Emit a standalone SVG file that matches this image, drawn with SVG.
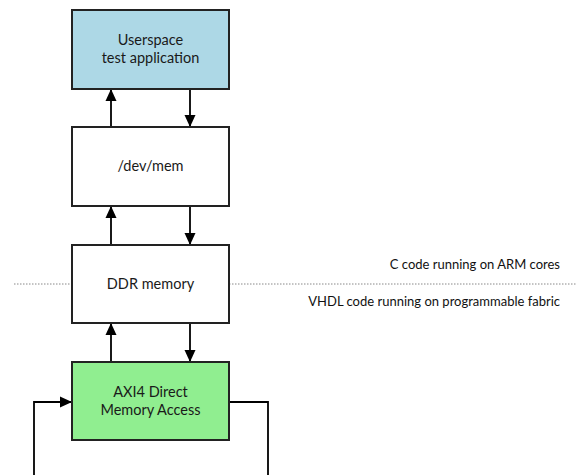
<svg xmlns="http://www.w3.org/2000/svg" width="577" height="475" viewBox="0 0 577 475">
<style>
.box{stroke:#222;stroke-width:2}
.t{font-family:Lato,"Open Sans",sans-serif;font-size:14.5px;fill:#1a1a1a;text-anchor:middle}
.note{font-family:Lato,"Open Sans",sans-serif;font-size:13px;fill:#111;text-anchor:end}
.c{stroke:#000;stroke-width:1.8;fill:none}
</style>
<defs>
<marker id="ah" viewBox="0 0 12 12" refX="12" refY="6" markerWidth="12" markerHeight="12" markerUnits="userSpaceOnUse" orient="auto">
<path d="M0,0.5 L12,6 L0,11.5 z" fill="#000"/>
</marker>
</defs>
<rect width="577" height="475" fill="#fff"/>
<g id="divider">
<line x1="14" y1="284" x2="72" y2="284" stroke="#888" stroke-width="1" stroke-dasharray="1.5,1.5"/>
<line x1="229" y1="284" x2="577" y2="284" stroke="#888" stroke-width="1" stroke-dasharray="1.5,1.5"/>
<text class="note" x="560" y="269">C code running on ARM cores</text>
<text class="note" x="560" y="306">VHDL code running on programmable fabric</text>
</g>
<g id="connectors">
<line class="c" x1="111" y1="127" x2="111" y2="89" marker-end="url(#ah)"/>
<line class="c" x1="190" y1="89" x2="190" y2="127" marker-end="url(#ah)"/>
<line class="c" x1="111" y1="245" x2="111" y2="206" marker-end="url(#ah)"/>
<line class="c" x1="190" y1="206" x2="190" y2="245" marker-end="url(#ah)"/>
<line class="c" x1="111" y1="362" x2="111" y2="323" marker-end="url(#ah)"/>
<line class="c" x1="190" y1="323" x2="190" y2="362" marker-end="url(#ah)"/>
<polyline class="c" points="34,475 34,402 72,402" marker-end="url(#ah)"/>
<polyline class="c" points="229,402 268,402 268,475"/>
</g>
<g id="userspace">
<rect class="box" x="72" y="10" width="157" height="79" fill="#ADD8E6"/>
<text class="t" x="150.5" y="45">Userspace</text>
<text class="t" x="150.5" y="63">test application</text>
</g>
<g id="devmem">
<rect class="box" x="72" y="127" width="157" height="79" fill="#fff"/>
<text class="t" x="150.5" y="171">/dev/mem</text>
</g>
<g id="ddr">
<rect class="box" x="72" y="245" width="157" height="78" fill="#fff"/>
<text class="t" x="150.5" y="289">DDR memory</text>
</g>
<g id="axi">
<rect class="box" x="72" y="362" width="157" height="78" fill="#90EE90"/>
<text class="t" x="150.5" y="397">AXI4 Direct</text>
<text class="t" x="150.5" y="415">Memory Access</text>
</g>
</svg>
